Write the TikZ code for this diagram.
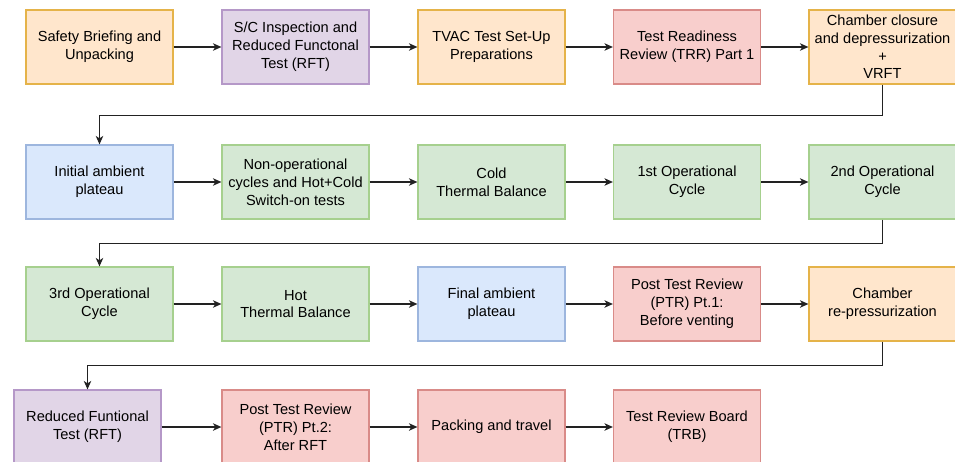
\documentclass[tikz,border=0pt]{standalone}
\usepackage{fontspec}
\setmainfont{Liberation Sans}
\usetikzlibrary{arrows.meta}
\definecolor{orF}{HTML}{FFE6CC}\definecolor{orD}{HTML}{E5B349}
\definecolor{puF}{HTML}{E1D5E7}\definecolor{puD}{HTML}{B598C8}
\definecolor{reF}{HTML}{F8CECC}\definecolor{reD}{HTML}{D98B88}
\definecolor{grF}{HTML}{D5E8D4}\definecolor{grD}{HTML}{A6D08E}
\definecolor{blF}{HTML}{DAE8FC}\definecolor{blD}{HTML}{9DB6DE}
\definecolor{lineC}{HTML}{222222}
\tikzset{
  box/.style={rectangle, minimum width=147pt, minimum height=74pt, inner sep=0pt,
    line width=1.2pt, align=center, font=\fontsize{14.6}{17.8}\selectfont},
  orbox/.style={box, fill=orF, draw=orD},
  pubox/.style={box, fill=puF, draw=puD},
  rebox/.style={box, fill=reF, draw=reD},
  grbox/.style={box, fill=grF, draw=grD},
  blbox/.style={box, fill=blF, draw=blD},
  arr/.style={draw=lineC, line width=1.2pt, -{Stealth[length=8.5pt,width=7.5pt,inset=2.5pt]}}
}
\begin{document}
\begin{tikzpicture}[x=1pt,y=-1pt]
\useasboundingbox (0,0) rectangle (955,461);
% row 1
\node[orbox] (a1) at (99.5,47) {Safety Briefing and\\Unpacking};
\node[pubox] (a2) at (295.5,47) {S/C Inspection and\\Reduced Functonal\\Test (RFT)};
\node[orbox] (a3) at (491.5,47) {TVAC Test Set-Up\\Preparations};
\node[rebox] (a4) at (687,47) {Test Readiness\\Review (TRR) Part 1};
\node[orbox] (a5) at (882.5,47) {Chamber closure\\and depressurization\\+\\VRFT};
% row 2
\node[blbox] (b1) at (99.5,182) {Initial ambient\\plateau};
\node[grbox] (b2) at (295.5,182) {Non-operational\\cycles and Hot+Cold\\Switch-on tests};
\node[grbox] (b3) at (491.5,182) {Cold\\Thermal Balance};
\node[grbox] (b4) at (687,182) {1st Operational\\Cycle};
\node[grbox] (b5) at (882.5,182) {2nd Operational\\Cycle};
% row 3
\node[grbox] (c1) at (99.5,304) {3rd Operational\\Cycle};
\node[grbox] (c2) at (295.5,304) {Hot\\Thermal Balance};
\node[blbox] (c3) at (491.5,304) {Final ambient\\plateau};
\node[rebox] (c4) at (687,304) {Post Test Review\\(PTR) Pt.1:\\Before venting};
\node[orbox] (c5) at (882.5,304) {Chamber\\re-pressurization};
% row 4
\node[pubox] (d1) at (87.5,427) {Reduced Funtional\\Test (RFT)};
\node[rebox] (d2) at (295.5,427) {Post Test Review\\(PTR) Pt.2:\\After RFT};
\node[rebox] (d3) at (491.5,427) {Packing and travel};
\node[rebox] (d4) at (687,427) {Test Review Board\\(TRB)};
% connectors
\draw[arr] (a1) -- (a2);
\draw[arr] (a2) -- (a3);
\draw[arr] (a3) -- (a4);
\draw[arr] (a4) -- (a5);
\draw[arr] (a5.south) -- ++(0,31) -| (b1.north);
\draw[arr] (b1) -- (b2);
\draw[arr] (b2) -- (b3);
\draw[arr] (b3) -- (b4);
\draw[arr] (b4) -- (b5);
\draw[arr] (b5.south) -- ++(0,24) -| (c1.north);
\draw[arr] (c1) -- (c2);
\draw[arr] (c2) -- (c3);
\draw[arr] (c3) -- (c4);
\draw[arr] (c4) -- (c5);
\draw[arr] (c5.south) -- ++(0,24) -| (d1.north);
\draw[arr] (d1) -- (d2);
\draw[arr] (d2) -- (d3);
\draw[arr] (d3) -- (d4);
\end{tikzpicture}
\end{document}
